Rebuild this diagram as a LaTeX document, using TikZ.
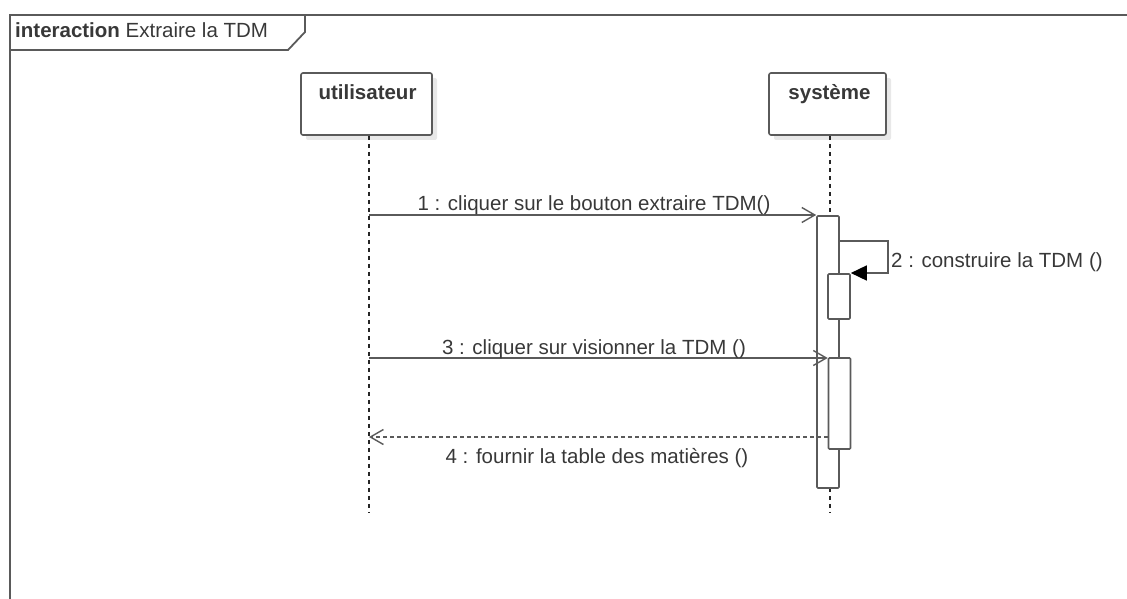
\documentclass[tikz,border=0pt]{standalone}
\usepackage{fontspec}
\setmainfont{Liberation Sans}
\usetikzlibrary{arrows.meta,shadows}

\definecolor{inkline}{HTML}{5A5A5A}
\definecolor{inktext}{HTML}{383838}

\tikzset{
  txt/.style={font=\fontsize{20.5}{24}\selectfont, text=inktext, inner sep=0pt},
  framebox/.style={draw=inkline, line width=1.8pt},
  lifebox/.style={draw=inkline, line width=1.6pt, fill=white, rounded corners=2pt,
    drop shadow={shadow xshift=5pt, shadow yshift=-5pt, fill=black!9, opacity=1}},
  lifeline/.style={draw=black!85, line width=1.2pt, dash pattern=on 4pt off 4pt},
  actbar/.style={draw=inkline, line width=1.6pt, fill=white, rounded corners=1pt,
    minimum width=22pt, inner sep=0pt},
  msgline/.style={draw=inkline, line width=1.6pt,
    -{Straight Barb[length=13pt, width=15pt, line width=1.4pt]}},
  retline/.style={draw=inkline, line width=1.6pt, dash pattern=on 4pt off 3pt,
    -{Straight Barb[length=13pt, width=15pt, line width=1.4pt]}},
  selfline/.style={draw=inkline, line width=1.6pt,
    -{Triangle[length=16pt, width=15pt, color=black, fill=black]}},
}

\begin{document}
\begin{tikzpicture}[x=1pt, y=-1pt]
  \useasboundingbox (0,0) rectangle (1127,599);

  % outer interaction frame and its name tab
  \draw[framebox] (1135,15) -- (10,15) -- (10,607);
  \draw[framebox] (10,50) -- (288,50) -- (305,32) -- (305,15);
  \node[txt, anchor=base west] (title) at (15,38)
    {\textbf{interaction} Extraire la TDM};

  % lifeline heads
  \node[lifebox, minimum width=131pt, minimum height=62pt] (ubox) at (366.5,104) {};
  \node[txt, anchor=base, font=\fontsize{20.5}{24}\selectfont\bfseries] (uname) at (367.5,100) {utilisateur};
  \node[lifebox, minimum width=117pt, minimum height=62pt] (sbox) at (827.5,104) {};
  \node[txt, anchor=base, font=\fontsize{20.5}{24}\selectfont\bfseries] (sname) at (829.5,100) {système};

  % lifelines
  \coordinate (uend) at (369,512);
  \coordinate (send) at (830,512);
  \draw[lifeline] (ubox.south -| uend) -- (uend);
  \draw[lifeline] (sbox.south -| send) -- (send);

  % activation bars
  \node[actbar, minimum height=272pt] (act1) at (828,352) {};
  \node[actbar, minimum height=45pt] (act2) at (839,296.5) {};
  \node[actbar, minimum height=91pt] (act3) at (839.5,403.5) {};

  % 1: call
  \coordinate (m1) at (369,215);
  \draw[msgline] (m1) -- (m1 -| act1.west);
  \node[txt, anchor=base] (l1) at (594,210) {1 : cliquer sur le bouton extraire TDM()};

  % 2: self call
  \coordinate (m2a) at (888,241);
  \coordinate (m2b) at (888,273);
  \draw[selfline] (m2a -| act1.east) -- (m2a) -- (m2b) -- (m2b -| act2.east);
  \node[txt, anchor=base west] (l2) at (891,267) {2 : construire la TDM ()};

  % 3: call
  \coordinate (m3) at (369,358);
  \draw[msgline] (m3) -- (m3 -| act3.west);
  \node[txt, anchor=base] (l3) at (594,354) {3 : cliquer sur visionner la TDM ()};

  % 4: reply
  \coordinate (m4) at (369,437);
  \draw[retline] (m4 -| act3.west) -- (m4);
  \node[txt, anchor=base] (l4) at (597,463) {4 : fournir la table des matières ()};
\end{tikzpicture}
\end{document}
